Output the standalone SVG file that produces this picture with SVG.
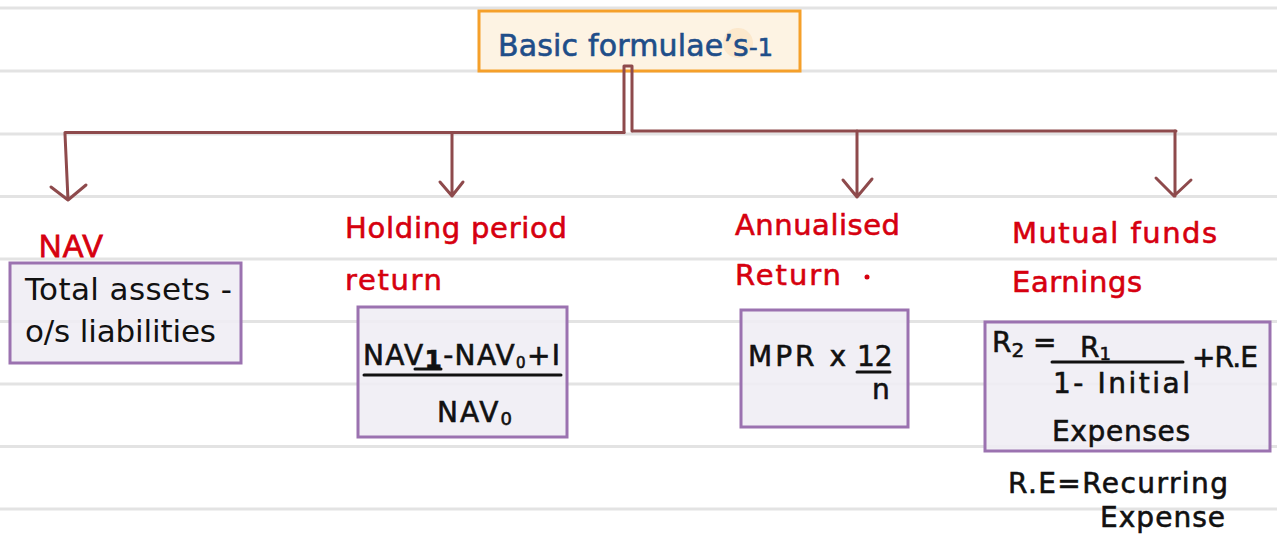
<svg xmlns="http://www.w3.org/2000/svg" width="1277" height="537" viewBox="0 0 1277 537">
<style>
.rule{stroke:#e3e3e3;stroke-width:3}
.conn{fill:none;stroke:#8e4a4c;stroke-width:3;stroke-linecap:round;stroke-linejoin:round}
.box{fill:#efedf4;fill-opacity:0.88;stroke:#9b72b0;stroke-width:3}
.hd{font-family:"DejaVu Sans","Noto Sans",sans-serif;font-size:29px;fill:#d6000f;stroke:#d6000f;stroke-width:0.6}
.fx{font-family:"DejaVu Sans","Noto Sans",sans-serif;font-size:28px;fill:#111;stroke:#111;stroke-width:0.6}
.sf{font-family:"DejaVu Sans","Liberation Sans",sans-serif;font-size:31px;fill:#111}
.bar{stroke:#111;stroke-width:3;stroke-linecap:round}
</style>
<rect width="1277" height="537" fill="#fff"/>
<g id="rules">
<line class="rule" x1="0" y1="8" x2="1277" y2="8"/>
<line class="rule" x1="0" y1="71" x2="1277" y2="71"/>
<line class="rule" x1="0" y1="134" x2="1277" y2="134"/>
<line class="rule" x1="0" y1="196.5" x2="1277" y2="196.5"/>
<line class="rule" x1="0" y1="259" x2="1277" y2="259"/>
<line class="rule" x1="0" y1="321.5" x2="1277" y2="321.5"/>
<line class="rule" x1="0" y1="384" x2="1277" y2="384"/>
<line class="rule" x1="0" y1="446.5" x2="1277" y2="446.5"/>
<line class="rule" x1="0" y1="509" x2="1277" y2="509"/>
</g>
<g id="title">
<rect x="479" y="11" width="321" height="60" fill="#fdf3e3" stroke="#f5a02a" stroke-width="3"/>
<circle cx="738" cy="43" r="15" fill="#fbe2c2" opacity="0.7"/>
<text x="498" y="56" font-family="'DejaVu Sans','Noto Sans',sans-serif" font-size="30" fill="#1f4e89" stroke="#1f4e89" stroke-width="0.6" textLength="275">Basic formulae’s<tspan font-size="24">-1</tspan></text>
</g>
<g id="connectors">
<path class="conn" d="M624 132.5 V66 H632 V131"/>
<path class="conn" d="M624 132.5 H65"/>
<path class="conn" d="M633 131 H1176"/>
<path class="conn" d="M65 134 L68 200 M51 187 L68 200 L86 185"/>
<path class="conn" d="M452 134 L452 196 M440 182 L452 196 L463 182"/>
<path class="conn" d="M857 131 L857 197 M843 180 L857 197 L872 179"/>
<path class="conn" d="M1175 131 L1175 196 M1156 178 L1174 196 L1191 180"/>
</g>
<g id="nav">
<text x="39" y="257" font-family="'Liberation Sans',Arial,sans-serif" font-size="31" fill="#d6000f" stroke="#d6000f" stroke-width="0.8" textLength="64">NAV</text>
<rect class="box" x="10" y="263" width="231" height="100"/>
<text class="sf" x="25" y="300" textLength="207">Total assets -</text>
<text class="sf" x="25" y="342" textLength="191">o/s liabilities</text>
</g>
<g id="hpr">
<text class="hd" x="345" y="238" textLength="222">Holding period</text>
<text class="hd" x="345" y="290" textLength="97">return</text>
<rect class="box" x="358" y="307" width="209" height="130"/>
<text class="fx" x="363" y="365" textLength="197">NAV<tspan font-weight="bold" font-size="25" dy="3">1</tspan><tspan dy="-3">-NAV</tspan><tspan font-size="15" dy="3">0</tspan><tspan dy="-3">+I</tspan></text>
<line class="bar" x1="415" y1="369" x2="441" y2="369"/>
<line class="bar" x1="364" y1="375" x2="561" y2="375"/>
<text class="fx" x="437" y="422" textLength="75">NAV<tspan font-size="18" dy="3">0</tspan></text>
</g>
<g id="annual">
<text class="hd" x="735" y="235" textLength="165">Annualised</text>
<text class="hd" x="735" y="285" textLength="106">Return</text>
<circle cx="867" cy="277" r="2.5" fill="#d6000f"/>
<rect class="box" x="741" y="310" width="167" height="117"/>
<text class="fx" x="748" y="366" textLength="98">MPR x</text>
<text class="fx" x="857" y="366" font-size="26">12</text>
<line class="bar" x1="857" y1="372" x2="890" y2="372"/>
<text class="fx" x="872" y="399" font-size="26">n</text>
</g>
<g id="mf">
<text class="hd" x="1012" y="243" textLength="205">Mutual  funds</text>
<text class="hd" x="1012" y="292" textLength="130">Earnings</text>
<rect class="box" x="985" y="322" width="285" height="129"/>
<text class="fx" x="992" y="352">R<tspan font-size="20" dy="5">2</tspan><tspan dy="-5"> =</tspan></text>
<text class="fx" x="1080" y="357">R<tspan font-size="18" dy="3">1</tspan></text>
<line class="bar" x1="1052" y1="362" x2="1183" y2="362"/>
<text class="fx" x="1053" y="393" textLength="137">1- Initial</text>
<text class="fx" x="1192" y="367" textLength="66">+R.E</text>
<text class="fx" x="1052" y="441" textLength="138">Expenses</text>
</g>
<g id="note">
<text class="fx" x="1008" y="493" font-size="29" textLength="220">R.E=Recurring</text>
<text class="fx" x="1100" y="527" font-size="29" textLength="125">Expense</text>
</g>
</svg>
